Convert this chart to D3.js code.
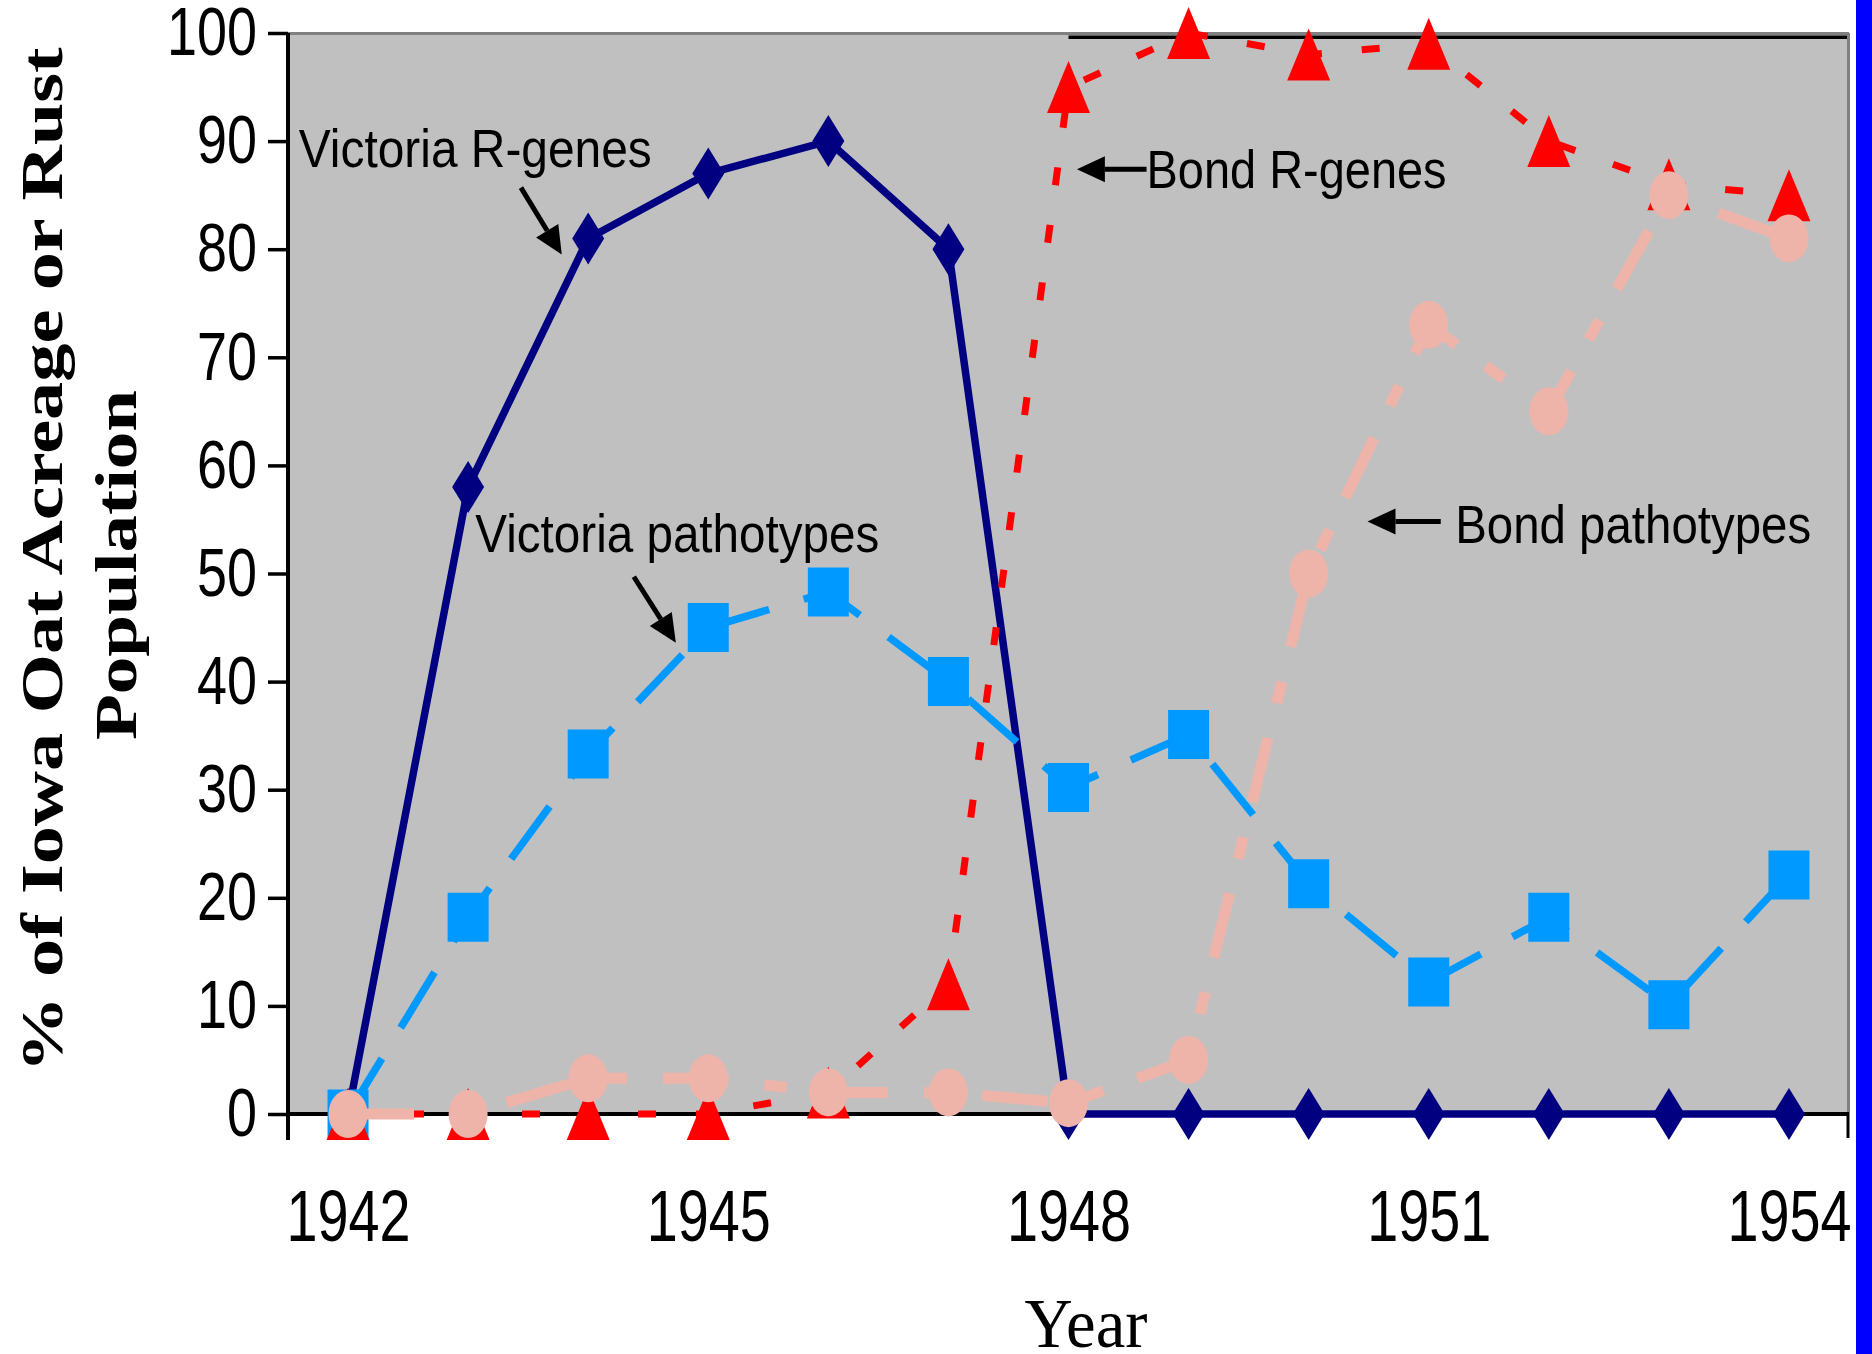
<!DOCTYPE html>
<html>
<head>
<meta charset="utf-8">
<script src="https://d3js.org/d3.v7.min.js"></script>
<style>
  body { margin: 0; background: white; }
  svg { display: block; }
</style>
</head>
<body>
<div id="chart"></div>
<script>
    // data
    const years = [1942, 1943, 1944, 1945, 1946, 1947, 1948, 1949, 1950, 1951, 1952, 1953, 1954];
    const yearLabels = [1942, 1945, 1948, 1951, 1954];
    const yTicks = [0, 10, 20, 30, 40, 50, 60, 70, 80, 90, 100];

    const victoriaRGenes = [0, 58, 81, 87, 90, 80, 0, 0, 0, 0, 0, 0, 0];
    const victoriaPathotypes = [0, 18.2, 33.3, 45, 48.3, 40, 30.2, 35.1, 21.3, 12.2, 18.2, 10.1, 22.1];
    const bondRGenes = [0, 0, 0, 0, 2, 12, 95, 100, 98, 99, 90, 86, 85];
    const bondPathotypes = [0, 0, 3.3, 3.3, 2, 2, 1, 5, 50, 73, 65, 85, 81];

    const labels = ["Victoria R-genes", "Victoria pathotypes", "Bond R-genes", "Bond pathotypes"];

    const W = 1872, H = 1354;
    const plot = { left: 288, right: 1849, top: 33, bottom: 1114 };
    const sans = "'Liberation Sans Narrow', 'Arial Narrow', 'Liberation Sans', Arial, sans-serif";
    const serif = "'Liberation Serif', 'Times New Roman', serif";

    const svg = d3.select("#chart").append("svg")
        .attr("width", W)
        .attr("height", H)
        .style("background-color", "white");

    const x = d3.scalePoint()
        .domain(years)
        .range([plot.left, plot.right])
        .padding(0.5);

    const y = d3.scaleLinear()
        .domain([0, 100])
        .range([plot.bottom, plot.top]);

    // position at a fractional year (for the annotations)
    const xAt = yr => x(years[0]) + (yr - years[0]) * x.step();

    // plot area
    svg.append("rect")
        .attr("x", plot.left)
        .attr("y", plot.top)
        .attr("width", plot.right - plot.left)
        .attr("height", plot.bottom - plot.top)
        .attr("fill", "#c0c0c0");

    svg.append("line")
        .attr("x1", plot.left).attr("x2", plot.right)
        .attr("y1", plot.top + 0.5).attr("y2", plot.top + 0.5)
        .attr("stroke", "#808080").attr("stroke-width", 3);

    svg.append("line")
        .attr("x1", plot.right - 0.5).attr("x2", plot.right - 0.5)
        .attr("y1", plot.top).attr("y2", plot.bottom)
        .attr("stroke", "#808080").attr("stroke-width", 3);

    // black rule along the top from 1948
    svg.append("line")
        .attr("x1", x(1948)).attr("x2", plot.right - 2)
        .attr("y1", y(99.6)).attr("y2", y(99.6))
        .attr("stroke", "#000").attr("stroke-width", 3.5);

    // blue bar at the right edge
    svg.append("rect")
        .attr("x", 1856).attr("y", 0)
        .attr("width", W - 1856).attr("height", H)
        .attr("fill", "#0000ff");

    // y axis
    const yAxis = d3.axisLeft(y)
        .tickValues(yTicks)
        .tickSize(20)
        .tickPadding(11);

    const gy = svg.append("g")
        .attr("transform", `translate(${plot.left},0)`)
        .call(yAxis);
    gy.select(".domain").remove();
    gy.selectAll(".tick line")
        .attr("stroke", "#000")
        .attr("stroke-width", 3.5);
    gy.selectAll(".tick text")
        .attr("fill", "#000")
        .attr("font-family", sans)
        .attr("font-size", 68)
        .attr("textLength", d => String(d).length * 30)
        .attr("lengthAdjust", "spacingAndGlyphs");

    // x axis
    const xAxis = d3.axisBottom(x)
        .tickValues(yearLabels)
        .tickSize(0)
        .tickPadding(76);

    const gx = svg.append("g")
        .attr("transform", `translate(0,${plot.bottom})`)
        .call(xAxis);
    gx.select(".domain").remove();
    gx.selectAll(".tick text")
        .attr("fill", "#000")
        .attr("font-family", sans)
        .attr("font-size", 72)
        .attr("textLength", d => String(d).length * 31)
        .attr("lengthAdjust", "spacingAndGlyphs");

    // axis lines
    svg.append("line")
        .attr("x1", plot.left).attr("x2", plot.left)
        .attr("y1", plot.top).attr("y2", plot.bottom + 26)
        .attr("stroke", "#000").attr("stroke-width", 4);
    svg.append("line")
        .attr("x1", plot.left).attr("x2", plot.right)
        .attr("y1", plot.bottom).attr("y2", plot.bottom)
        .attr("stroke", "#000").attr("stroke-width", 4);
    svg.append("line")
        .attr("x1", plot.right - 1).attr("x2", plot.right - 1)
        .attr("y1", plot.bottom).attr("y2", plot.bottom + 24)
        .attr("stroke", "#000").attr("stroke-width", 3);

    // markers
    const shapes = {
        diamond: (w, h) => `M0,${-h / 2}L${w / 2},0L0,${h / 2}L${-w / 2},0Z`,
        square: (w, h) => `M${-w / 2},${-h / 2}h${w}v${h}h${-w}Z`,
        triangle: (w, h) => `M0,${-h / 2}L${w / 2},${h / 2}L${-w / 2},${h / 2}Z`
    };

    const series = [
        { values: victoriaRGenes, color: "#000080", width: 7.5, dash: null, shape: "diamond", mw: 32, mh: 52 },
        { values: victoriaPathotypes, color: "#0099ff", width: 7.5, dash: "65,36", shape: "square", mw: 41, mh: 49 },
        { values: bondRGenes, color: "#ff0000", width: 7, dash: "18,40", shape: "triangle", mw: 43, mh: 52 },
        { values: bondPathotypes, color: "#eeb4aa", width: 11, dash: "66,36,22,36", shape: "circle", mw: 39, mh: 48 }
    ];

    const line = d3.line()
        .x((d, i) => x(years[i]))
        .y(d => y(d));

    series.forEach(s => {
        const g = svg.append("g");

        g.append("path")
            .datum(s.values)
            .attr("d", line)
            .attr("fill", "none")
            .attr("stroke", s.color)
            .attr("stroke-width", s.width)
            .attr("stroke-dasharray", s.dash);

        if (s.shape === "circle") {
            g.selectAll("ellipse")
                .data(s.values)
                .enter()
                .append("ellipse")
                .attr("cx", (d, i) => x(years[i]))
                .attr("cy", d => y(d))
                .attr("rx", s.mw / 2)
                .attr("ry", s.mh / 2)
                .attr("fill", s.color);
        } else {
            g.selectAll("path.mark")
                .data(s.values)
                .enter()
                .append("path")
                .attr("class", "mark")
                .attr("transform", (d, i) => `translate(${x(years[i])},${y(d)})`)
                .attr("d", shapes[s.shape](s.mw, s.mh))
                .attr("fill", s.color);
        }
    });

    // annotations
    const notes = [
        { text: labels[0], tx: 1941.59, ty: 87.6, len: 353, from: [1943.44, 85.7], to: [1943.78, 79.5] },
        { text: labels[1], tx: 1943.06, ty: 52.0, len: 404, from: [1944.38, 49.7], to: [1944.73, 43.6] },
        { text: labels[2], tx: 1948.65, ty: 85.7, len: 300, from: [1948.65, 87.4], to: [1948.07, 87.4] },
        { text: labels[3], tx: 1951.22, ty: 52.8, len: 356, from: [1951.10, 54.8], to: [1950.49, 54.8] }
    ];

    const ann = svg.append("g");

    notes.forEach(n => {
        ann.append("text")
            .attr("x", xAt(n.tx))
            .attr("y", y(n.ty))
            .attr("font-family", sans)
            .attr("font-size", 54)
            .attr("fill", "#000")
            .attr("textLength", n.len)
            .attr("lengthAdjust", "spacingAndGlyphs")
            .text(n.text);

        const x1 = xAt(n.from[0]), y1 = y(n.from[1]);
        const x2 = xAt(n.to[0]), y2 = y(n.to[1]);
        const a = Math.atan2(y2 - y1, x2 - x1);
        const hl = 28, hw = 13;
        const bx = x2 - hl * Math.cos(a), by = y2 - hl * Math.sin(a);

        ann.append("line")
            .attr("x1", x1).attr("y1", y1)
            .attr("x2", bx).attr("y2", by)
            .attr("stroke", "#000")
            .attr("stroke-width", 5);

        ann.append("path")
            .attr("d", `M${x2},${y2}L${bx + hw * Math.sin(a)},${by - hw * Math.cos(a)}L${bx - hw * Math.sin(a)},${by + hw * Math.cos(a)}Z`)
            .attr("fill", "#000");
    });

    // axis titles
    svg.append("text")
        .attr("transform", "translate(62,560) rotate(-90)")
        .attr("text-anchor", "middle")
        .attr("font-family", serif)
        .attr("font-weight", "bold")
        .attr("font-size", 60)
        .attr("textLength", 1025)
        .attr("lengthAdjust", "spacingAndGlyphs")
        .text("% of Iowa Oat Acreage or Rust");

    svg.append("text")
        .attr("transform", "translate(136,565) rotate(-90)")
        .attr("text-anchor", "middle")
        .attr("font-family", serif)
        .attr("font-weight", "bold")
        .attr("font-size", 60)
        .attr("textLength", 350)
        .attr("lengthAdjust", "spacingAndGlyphs")
        .text("Population");

    svg.append("text")
        .attr("x", 1086)
        .attr("y", 1347)
        .attr("text-anchor", "middle")
        .attr("font-family", serif)
        .attr("font-size", 70)
        .attr("textLength", 123)
        .attr("lengthAdjust", "spacingAndGlyphs")
        .text("Year");
</script>
</body>
</html>
